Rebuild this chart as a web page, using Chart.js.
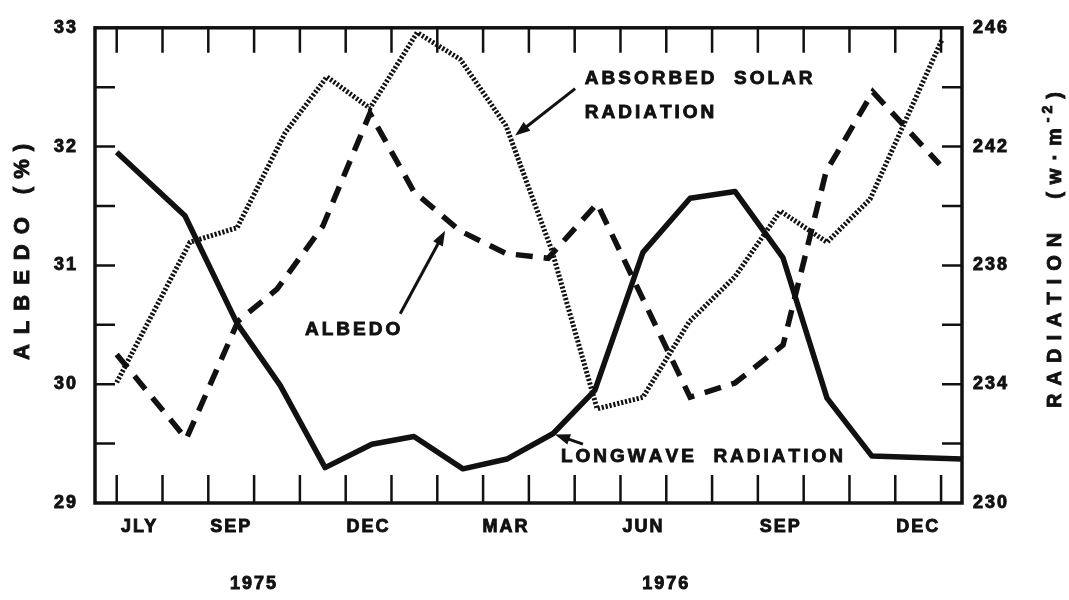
<!DOCTYPE html>
<html>
<head>
<meta charset="utf-8">
<script src="https://cdn.jsdelivr.net/npm/chart.js@4.4.1/dist/chart.umd.min.js"></script>
<style>
    html, body { margin: 0; padding: 0; background: #fff; }
    #wrap { width: 1069px; height: 600px; }
</style>
</head>
<body>
<div id="wrap"><canvas id="grafico" width="1069" height="600"></canvas></div>
<script>
// x = months counted from 1 July 1975 (tick 0 = start of JLY)
const monthLabels = ['JLY', 'SEP', 'DEC', 'MAR', 'JUN', 'SEP', 'DEC'];
const monthLabelPos = [0.5, 2.5, 5.5, 8.5, 11.5, 14.5, 17.5];
const yearLabels = ['1975', '1976'];
const yearPos = [3, 12];
const albedoTicks = [29, 30, 31, 32, 33];
const radTicks = [230, 234, 238, 242, 246];

// albedo (%), left axis
const albedoMonths = [0, 1.52, 2.65, 3.5, 4.5, 5.53, 6.49, 7.5, 8.5, 9.42, 10.49, 12.52, 13.5, 14.55, 15.49, 16.51, 17.97];
const albedoValues = [30.25, 29.54, 30.53, 30.80, 31.33, 32.28, 31.62, 31.29, 31.10, 31.06, 31.52, 29.89, 30.01, 30.33, 31.79, 32.46, 31.85];

// absorbed solar radiation (w m-2), right axis
const solarMonths = [0, 1.6, 2.63, 3.68, 4.59, 5.53, 6.56, 7.5, 8.5, 9.5, 10.49, 11.49, 12.5, 13.5, 14.49, 15.51, 16.45, 18.02];
const solarValues = [234.06, 238.78, 239.27, 242.47, 244.35, 243.29, 245.84, 244.94, 242.70, 238.51, 233.17, 233.56, 236.10, 237.62, 239.83, 238.78, 240.23, 245.60];

// longwave radiation (w m-2), right axis
const longwaveMonths = [0, 1.49, 2.63, 3.57, 4.55, 5.57, 6.49, 7.56, 8.52, 9.53, 10.44, 11.49, 12.52, 13.5, 14.55, 15.51, 16.49, 18.45];
const longwaveValues = [241.81, 239.67, 236.04, 233.96, 231.19, 231.98, 232.24, 231.15, 231.48, 232.34, 233.79, 238.44, 240.26, 240.49, 238.25, 233.53, 231.58, 231.48];

const xMin = -0.474;
const xMax = 18.457;
const fonte = "'Liberation Sans', Arial, Helvetica, sans-serif";
const tinta = '#111';

// labels with arrows, placed in (month, radiation) units
const notas = [
    { linhas: ['ABSORBED  SOLAR', 'RADIATION'], x: 10.22, y: [244.28, 243.13], seta: [10.01, 243.95, 8.70, 242.37] },
    { linhas: ['ALBEDO'], x: 4.11, y: [235.84], seta: [6.19, 236.37, 7.17, 239.17] },
    { linhas: ['LONGWAVE  RADIATION'], x: 9.70, y: [231.55], seta: [10.18, 231.98, 9.57, 232.31] }
];

function pontos(xs, ys) {
    return xs.map((x, i) => ({ x: x, y: ys[i] }));
}

function larguraEspacada(ctx, txt, esp) {
    let w = 0;
    for (const ch of txt) {
        w += ctx.measureText(ch).width + esp;
    }
    return w - esp;
}

function textoEspacado(ctx, txt, x, y, esp) {
    for (const ch of txt) {
        ctx.fillText(ch, x, y);
        ctx.strokeText(ch, x, y);
        x += ctx.measureText(ch).width + esp;
    }
    return x;
}

// runs drawn rotated -90deg, centred at (cx, cy)
function tituloVertical(ctx, cx, cy, runs) {
    ctx.save();
    ctx.translate(cx, cy);
    ctx.rotate(-Math.PI / 2);
    ctx.textBaseline = 'alphabetic';
    ctx.lineWidth = 0.9;
    let total = 0;
    runs.forEach(r => {
        if (r.gap) { total += r.gap; return; }
        ctx.font = 'bold ' + r.size + 'px ' + fonte;
        total += larguraEspacada(ctx, r.t, r.esp) + (r.depois || 0);
    });
    let x = -total / 2;
    runs.forEach(r => {
        if (r.gap) { x += r.gap; return; }
        ctx.font = 'bold ' + r.size + 'px ' + fonte;
        textoEspacado(ctx, r.t, x, 7 + (r.sobe || 0), r.esp);
        x += larguraEspacada(ctx, r.t, r.esp) + (r.depois || 0);
    });
    ctx.restore();
}

function seta(ctx, x1, y1, x2, y2) {
    const ang = Math.atan2(y2 - y1, x2 - x1);
    const comp = 15, meia = 5.5;
    ctx.beginPath();
    ctx.moveTo(x1, y1);
    ctx.lineTo(x2 - Math.cos(ang) * comp * 0.8, y2 - Math.sin(ang) * comp * 0.8);
    ctx.stroke();
    ctx.beginPath();
    ctx.moveTo(x2, y2);
    ctx.lineTo(x2 - Math.cos(ang) * comp + Math.sin(ang) * meia, y2 - Math.sin(ang) * comp - Math.cos(ang) * meia);
    ctx.lineTo(x2 - Math.cos(ang) * comp - Math.sin(ang) * meia, y2 - Math.sin(ang) * comp + Math.cos(ang) * meia);
    ctx.closePath();
    ctx.fill();
}

const moldura = {
    id: 'moldura',
    beforeDraw(chart) {
        chart.ctx.letterSpacing = '2px';
    },
    beforeDatasetsDraw(chart) {
        chart.ctx.letterSpacing = '0px';
    },
    afterDraw(chart) {
        const ctx = chart.ctx;
        const a = chart.chartArea;
        const sx = chart.scales.x;
        const sA = chart.scales.yA;
        const sR = chart.scales.yR;

        ctx.save();
        ctx.letterSpacing = '0px';
        ctx.strokeStyle = tinta;
        ctx.fillStyle = tinta;

        // inward tick marks
        ctx.lineWidth = 2.5;
        ctx.beginPath();
        for (let m = 0; m <= 18; m++) {
            const px = sx.getPixelForValue(m);
            ctx.moveTo(px, a.top);
            ctx.lineTo(px, a.top + 25);
            ctx.moveTo(px, a.bottom);
            ctx.lineTo(px, a.bottom - 28);
        }
        for (let v = 29.5; v < 33; v += 0.5) {
            const py = sA.getPixelForValue(v);
            ctx.moveTo(a.left, py);
            ctx.lineTo(a.left + 20, py);
        }
        for (let v = 232; v < 246; v += 2) {
            const py = sR.getPixelForValue(v);
            ctx.moveTo(a.right, py);
            ctx.lineTo(a.right - 20, py);
        }
        ctx.stroke();

        // frame
        ctx.lineWidth = 3.5;
        ctx.strokeRect(a.left, a.top, a.right - a.left, a.bottom - a.top);

        // annotations
        ctx.font = 'bold 19px ' + fonte;
        ctx.textBaseline = 'middle';
        ctx.textAlign = 'left';
        notas.forEach(n => {
            const px = sx.getPixelForValue(n.x);
            ctx.lineWidth = 0.9;
            n.linhas.forEach((t, i) => {
                textoEspacado(ctx, t, px, sR.getPixelForValue(n.y[i]), 3);
            });
            ctx.lineWidth = 3;
            seta(ctx,
                sx.getPixelForValue(n.seta[0]), sR.getPixelForValue(n.seta[1]),
                sx.getPixelForValue(n.seta[2]), sR.getPixelForValue(n.seta[3]));
        });

        // axis titles
        tituloVertical(ctx, 22, 252, [
            { t: 'ALBEDO', size: 22, esp: 10 },
            { gap: 23 },
            { t: '(%)', size: 22, esp: 8 }
        ]);
        tituloVertical(ctx, 1054, 250, [
            { t: 'RADIATION', size: 20, esp: 8 },
            { gap: 34 },
            { t: '(w\u00b7m', size: 20, esp: 8, depois: 6 },
            { t: '-2', size: 14, esp: 4, sobe: -9, depois: 7 },
            { t: ')', size: 20, esp: 0 }
        ]);
        ctx.restore();
    }
};

const rotuloFonte = { family: fonte, size: 18, weight: 'bold' };

function eixoTicks(extra) {
    return Object.assign({
        color: tinta,
        font: rotuloFonte,
        textStrokeColor: tinta,
        textStrokeWidth: 0.9
    }, extra);
}

new Chart(document.getElementById('grafico'), {
    type: 'line',
    data: {
        datasets: [
            {
                label: 'Albedo',
                data: pontos(albedoMonths, albedoValues),
                yAxisID: 'yA',
                borderColor: tinta,
                borderWidth: 5.5,
                borderDash: [17, 11],
                borderCapStyle: 'butt',
                pointRadius: 0,
                tension: 0
            },
            {
                label: 'Absorbed solar radiation',
                data: pontos(solarMonths, solarValues),
                yAxisID: 'yR',
                borderColor: tinta,
                borderWidth: 5,
                borderDash: [2.2, 1.8],
                borderCapStyle: 'butt',
                pointRadius: 0,
                tension: 0
            },
            {
                label: 'Longwave radiation',
                data: pontos(longwaveMonths, longwaveValues),
                yAxisID: 'yR',
                borderColor: tinta,
                borderWidth: 5.5,
                borderJoinStyle: 'round',
                pointRadius: 0,
                tension: 0
            }
        ]
    },
    options: {
        responsive: false,
        animation: false,
        devicePixelRatio: 1,
        layout: { padding: { top: 18, left: 0, right: 0, bottom: 0 } },
        plugins: {
            legend: { display: false },
            tooltip: { enabled: false }
        },
        scales: {
            x: {
                type: 'linear',
                position: 'bottom',
                weight: 0,
                min: xMin,
                max: xMax,
                grid: { display: false, drawTicks: false },
                border: { display: false },
                afterBuildTicks: s => { s.ticks = monthLabelPos.map(v => ({ value: v })); },
                afterFit: s => { s.height = 44; },
                ticks: eixoTicks({
                    autoSkip: false,
                    maxRotation: 0,
                    padding: 13,
                    callback: (v, i) => monthLabels[i]
                })
            },
            xYear: {
                type: 'linear',
                position: 'bottom',
                weight: 1,
                min: xMin,
                max: xMax,
                grid: { display: false, drawTicks: false },
                border: { display: false },
                afterBuildTicks: s => { s.ticks = yearPos.map(v => ({ value: v })); },
                afterFit: s => { s.height = 53; },
                ticks: eixoTicks({
                    autoSkip: false,
                    maxRotation: 0,
                    padding: 26,
                    callback: (v, i) => yearLabels[i]
                })
            },
            yA: {
                type: 'linear',
                position: 'left',
                min: 29,
                max: 33,
                grid: { display: false, drawTicks: false },
                border: { display: false },
                afterBuildTicks: s => { s.ticks = albedoTicks.map(v => ({ value: v })); },
                afterFit: s => { s.width = 95; },
                ticks: eixoTicks({
                    padding: 17,
                    callback: (v, i) => String(albedoTicks[i])
                })
            },
            yR: {
                type: 'linear',
                position: 'right',
                min: 230,
                max: 246,
                grid: { display: false, drawTicks: false },
                border: { display: false },
                afterBuildTicks: s => { s.ticks = radTicks.map(v => ({ value: v })); },
                afterFit: s => { s.width = 107; },
                ticks: eixoTicks({
                    padding: 11,
                    callback: (v, i) => String(radTicks[i])
                })
            }
        }
    },
    plugins: [moldura]
});
</script>
</body>
</html>
